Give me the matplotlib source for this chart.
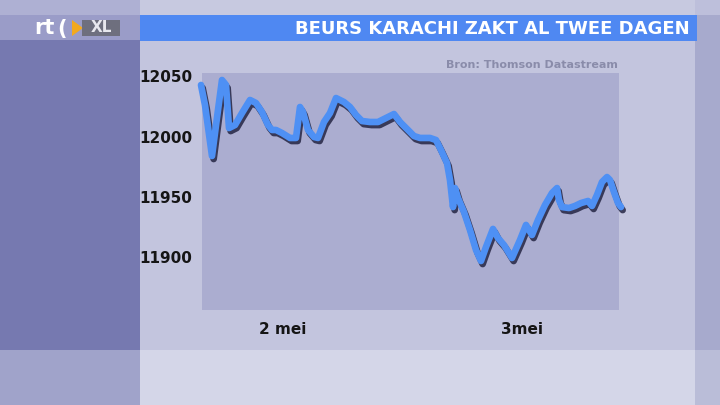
import matplotlib
matplotlib.use("Agg")
import matplotlib.pyplot as plt
import matplotlib.patheffects as pe
from matplotlib.patches import Rectangle, Polygon

# koersdata Karachi (positie op de tijdas, indexwaarde)
tijd = [1, 5, 12, 18, 22, 26, 29, 35, 42, 50, 56, 62, 68, 72, 76, 82, 90, 96,
        100, 103, 108, 114, 118, 124, 130, 136, 144, 150, 156, 162, 170, 178,
        186, 194, 200, 208, 214, 220, 230, 236, 241, 247, 250, 253, 255, 258,
        264, 270, 276, 281, 286, 293, 298, 304, 312, 320, 326, 332, 338, 345,
        352, 357, 359, 362, 369, 375, 381, 388, 392, 397, 402, 407, 410, 414,
        418, 421]
koers = [12042.6, 12026.0, 11983.9, 12021.9, 12046.7, 12042.6, 12007.0, 12009.5,
         12019.4, 12030.2, 12027.7, 12020.2, 12009.5, 12005.4, 12005.4, 12002.9,
         11998.8, 11998.8, 12024.4, 12020.2, 12005.4, 11999.6, 11998.8, 12012.0,
         12019.4, 12031.8, 12028.5, 12024.4, 12017.8, 12012.8, 12012.0, 12012.0,
         12015.3, 12018.6, 12012.0, 12005.4, 12000.4, 11998.8, 11998.8, 11997.1,
         11988.8, 11978.1, 11964.0, 11941.7, 11957.4, 11949.2, 11937.6, 11922.7,
         11906.2, 11897.1, 11908.7, 11923.6, 11916.1, 11910.3, 11899.6, 11914.5,
         11926.9, 11918.6, 11931.0, 11943.4, 11953.3, 11957.4, 11947.5, 11941.7,
         11940.9, 11942.6, 11945.0, 11946.7, 11942.6, 11951.7, 11962.4, 11966.5,
         11964.0, 11954.1, 11945.0, 11941.7]

y_ticks = [11900, 11950, 12000, 12050]
x_ticks = [83, 322]
x_labels = ["2 mei", "3mei"]

titel = "BEURS KARACHI ZAKT AL TWEE DAGEN"
bron = "Bron: Thomson Datastream"

W, H = 720, 405
fig = plt.figure(figsize=(7.2, 4.05), dpi=100)

# achtergrond in pixels
bg = fig.add_axes([0, 0, 1, 1])
bg.set_xlim(0, W)
bg.set_ylim(H, 0)
bg.axis("off")

def blok(x0, y0, x1, y1, kleur):
    bg.add_patch(Rectangle((x0, y0), x1 - x0, y1 - y0, color=kleur, lw=0))

# middenpaneel
blok(140, 0, 695, 15, "#c7c9e0")
blok(140, 15, 695, 350, "#c3c5de")
blok(140, 350, 695, H, "#d4d6e8")
# linker strook
blok(0, 0, 140, 15, "#aeb0d3")
blok(0, 15, 140, 40, "#9a9cc8")
blok(0, 40, 140, 350, "#7679b0")
blok(0, 350, 140, H, "#a0a3ca")
# rechter strook
blok(695, 0, W, 15, "#bdbfdb")
blok(695, 15, W, 350, "#a7aacd")
blok(695, 350, W, H, "#babdd8")
# titelbalk
blok(140, 15, 697, 41, "#4f88f2")
bg.text(690, 28.5, titel, color="white", fontsize=13, fontweight="bold",
        ha="right", va="center")
bg.text(618, 65, bron, color="#8a8caa", fontsize=8, fontweight="bold",
        ha="right", va="center")

# logo
bg.text(34, 28, "rt", color="white", fontsize=15, fontweight="bold",
        ha="left", va="center")
bg.text(57, 29, "(", color="white", fontsize=15, fontweight="bold",
        ha="left", va="center")
bg.add_patch(Polygon([[72, 20], [72, 36], [83, 28]], color="#f2a91e", lw=0))
blok(82, 20, 120, 36, "#6e6f7e")
bg.text(101, 28, "XL", color="#e8e8ee", fontsize=11, fontweight="bold",
        ha="center", va="center")

# grafiek
ax = fig.add_axes([202 / W, 1 - 310 / H, 417 / W, 237 / H])
ax.set_facecolor("#abadd0")
for s in ax.spines.values():
    s.set_visible(False)

ax.plot(tijd, koers, color="#4e90f4", lw=4.8, solid_joinstyle="round",
        solid_capstyle="round", clip_on=False,
        path_effects=[pe.SimpleLineShadow(offset=(1.2, -2.2), shadow_color="#1c1c3a",
                                          alpha=0.8),
                      pe.Normal()])

ax.set_xlim(2, 419)
ax.set_ylim(11856.6, 12052.5)
ax.set_yticks(y_ticks)
ax.set_yticklabels([str(v) for v in y_ticks], fontsize=11, fontweight="bold",
                   color="#151515")
ax.set_xticks(x_ticks)
ax.set_xticklabels(x_labels, fontsize=11, fontweight="bold", color="#151515")
ax.tick_params(length=0, pad=7)
ax.tick_params(axis="x", pad=9)

fig.savefig("out.png", dpi=100)
